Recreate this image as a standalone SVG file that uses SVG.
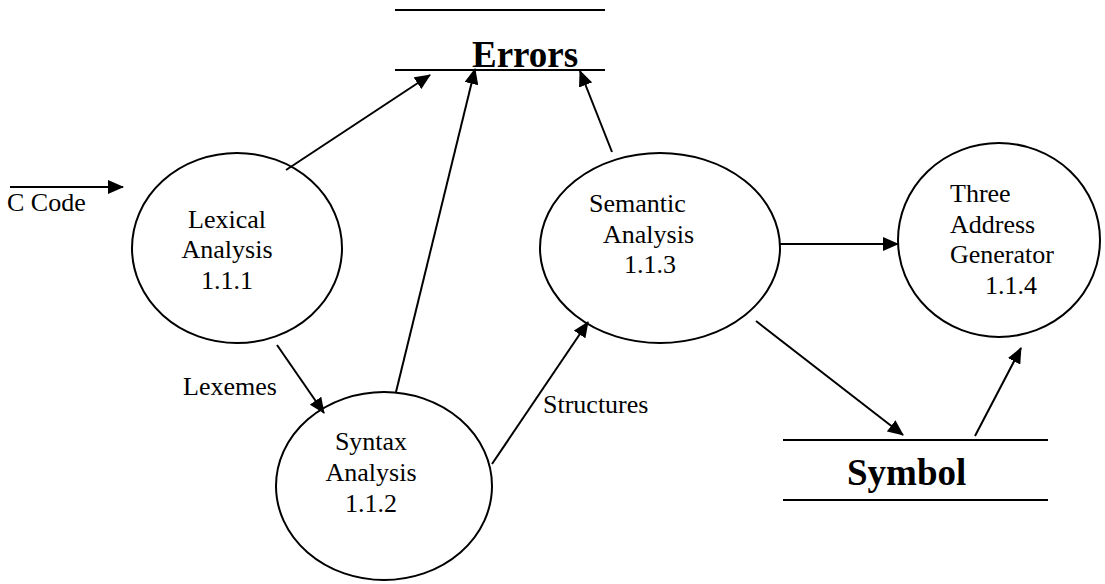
<svg xmlns="http://www.w3.org/2000/svg" width="1105" height="584" viewBox="0 0 1105 584">
  <defs>
    <marker id="arrow" markerUnits="userSpaceOnUse" markerWidth="16" markerHeight="14" refX="15" refY="7" orient="auto">
      <path d="M0,0 L16,7 L0,14 z" fill="#000"/>
    </marker>
    <style>
      .bubble { fill: #fff; stroke: #000; stroke-width: 2; }
      .store { stroke: #000; stroke-width: 2.2; }
      .flow { stroke: #000; stroke-width: 2; fill: none; marker-end: url(#arrow); }
      .lbl { font-family: "Liberation Serif", "Times New Roman", serif; font-size: 26px; fill: #000; }
      .mid { text-anchor: middle; }
      .storeLbl { font-family: "Liberation Serif", "Times New Roman", serif; font-size: 37px; font-weight: bold; fill: #000; }
    </style>
  </defs>
  <rect width="1105" height="584" fill="#fff"/>

  <!-- data stores -->
  <g id="store-errors">
    <line class="store" x1="395" y1="10" x2="605" y2="10"/>
    <line class="store" x1="395" y1="70" x2="605" y2="70"/>
    <text class="storeLbl" x="472" y="67">Errors</text>
  </g>
  <g id="store-symbol">
    <line class="store" x1="783" y1="440" x2="1048" y2="440"/>
    <line class="store" x1="783" y1="500" x2="1048" y2="500"/>
    <text class="storeLbl" x="847" y="485">Symbol</text>
  </g>

  <!-- processes -->
  <g id="proc-lexical">
    <ellipse class="bubble" cx="237" cy="248" rx="105" ry="95"/>
    <text class="lbl mid" x="227" y="228">Lexical</text>
    <text class="lbl mid" x="227" y="258">Analysis</text>
    <text class="lbl mid" x="227" y="289">1.1.1</text>
  </g>
  <g id="proc-syntax">
    <ellipse class="bubble" cx="384" cy="486" rx="108" ry="94"/>
    <text class="lbl mid" x="371" y="450">Syntax</text>
    <text class="lbl mid" x="371" y="481">Analysis</text>
    <text class="lbl mid" x="371" y="512">1.1.2</text>
  </g>
  <g id="proc-semantic">
    <ellipse class="bubble" cx="660" cy="248" rx="120" ry="95"/>
    <text class="lbl" x="589" y="212">Semantic</text>
    <text class="lbl" x="603" y="243">Analysis</text>
    <text class="lbl" x="624" y="273">1.1.3</text>
  </g>
  <g id="proc-tac">
    <ellipse class="bubble" cx="999" cy="240" rx="101" ry="97"/>
    <text class="lbl" x="950" y="202">Three</text>
    <text class="lbl" x="950" y="233">Address</text>
    <text class="lbl" x="950" y="263">Generator</text>
    <text class="lbl" x="985" y="294">1.1.4</text>
  </g>

  <!-- data flows -->
  <g id="flows">
    <line class="flow" x1="10" y1="187" x2="123" y2="187"/>
    <line class="flow" x1="286" y1="170" x2="430" y2="75"/>
    <line class="flow" x1="277" y1="345" x2="324" y2="413"/>
    <line class="flow" x1="396" y1="392" x2="475" y2="69"/>
    <line class="flow" x1="492" y1="464" x2="588" y2="322"/>
    <line class="flow" x1="612" y1="152" x2="580" y2="71"/>
    <line class="flow" x1="780" y1="244" x2="898" y2="244"/>
    <line class="flow" x1="756" y1="321" x2="903" y2="435"/>
    <line class="flow" x1="975" y1="436" x2="1021" y2="348"/>
    <text class="lbl" x="7" y="211">C Code</text>
    <text class="lbl" x="183" y="395">Lexemes</text>
    <text class="lbl" x="543" y="413">Structures</text>
  </g>
</svg>
